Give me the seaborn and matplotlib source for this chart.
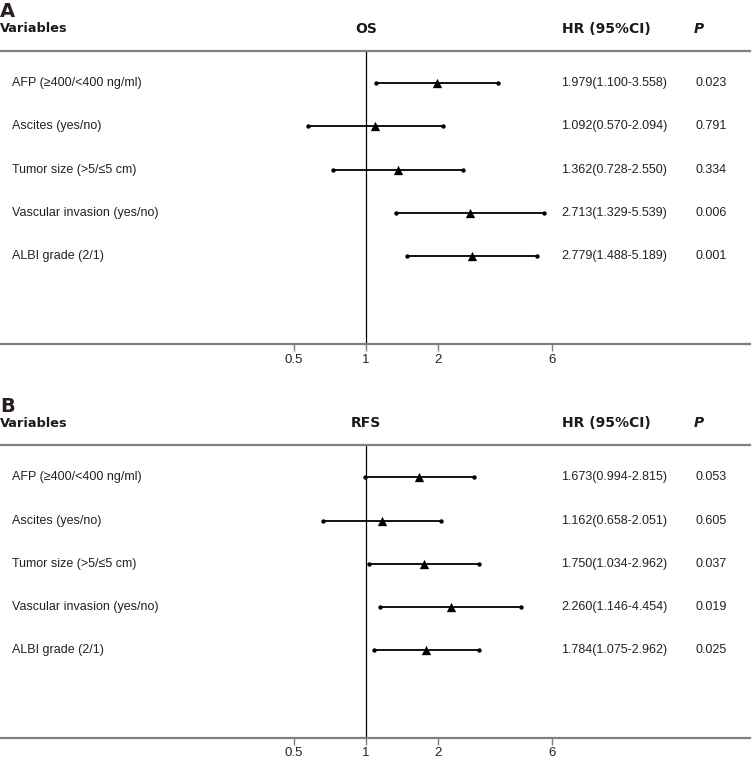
import numpy as np
import pandas as pd
import seaborn as sns
import matplotlib.pyplot as plt
from matplotlib.transforms import blended_transform_factory

# Values
variables = ["AFP (\u2265400/<400 ng/ml)", "Ascites (yes/no)", "Tumor size (>5/\u22645 cm)",
             "Vascular invasion (yes/no)", "ALBI grade (2/1)"]

os_hr = [1.979, 1.092, 1.362, 2.713, 2.779]
os_lo = [1.100, 0.570, 0.728, 1.329, 1.488]
os_hi = [3.558, 2.094, 2.550, 5.539, 5.189]
os_p = ["0.023", "0.791", "0.334", "0.006", "0.001"]

rfs_hr = [1.673, 1.162, 1.750, 2.260, 1.784]
rfs_lo = [0.994, 0.658, 1.034, 1.146, 1.075]
rfs_hi = [2.815, 2.051, 2.962, 4.454, 2.962]
rfs_p = ["0.053", "0.605", "0.037", "0.019", "0.025"]

ticks = [0.5, 1, 2, 6]
tick_labels = ["0.5", "1", "2", "6"]

sns.set_theme(style="white")
plt.rcParams['font.family'] = ['Liberation Sans', 'DejaVu Sans']

fig = plt.figure(figsize=(7.54, 7.65), dpi=100)
W, H = 754, 765
grey = "#7f7f7f"


def forest(panel, outcome, hr, lo, hi, pvals, top_px, bottom_px):
    ax = fig.add_axes([1 / W, 1 - bottom_px / H, 749 / W, (bottom_px - top_px) / H])
    df = pd.DataFrame({"var": variables, "hr": hr, "lo": lo, "hi": hi, "p": pvals})
    df["row"] = np.arange(len(df))

    ax.set_xscale("log")
    ax.axvline(1, color="black", lw=0.9, zorder=1)
    ax.hlines(df["row"], df["lo"], df["hi"], color="black", lw=1.3, zorder=2)
    ends = pd.concat([df[["lo", "row"]].rename(columns={"lo": "x"}),
                      df[["hi", "row"]].rename(columns={"hi": "x"})])
    sns.scatterplot(data=ends, x="x", y="row", ax=ax, color="black", s=10,
                    marker="o", linewidth=0, zorder=3)
    sns.scatterplot(data=df, x="hr", y="row", ax=ax, color="black", s=45,
                    marker="^", linewidth=0, zorder=4)

    ax.set_xlim(0.0298, 40.3)
    ax.set_ylim(6.03, -0.75)
    ax.set_xticks(ticks)
    ax.set_xticklabels(tick_labels)
    ax.minorticks_off()
    ax.set_yticks([])
    ax.set_xlabel("")
    ax.set_ylabel("")
    for s in ["left", "right"]:
        ax.spines[s].set_visible(False)
    for s in ["top", "bottom"]:
        ax.spines[s].set_color(grey)
        ax.spines[s].set_linewidth(1.6)
    ax.tick_params(axis="x", direction="out", length=5, width=1, color=grey,
                   labelsize=9.5, pad=2, bottom=True, labelcolor="#222222")

    tr = blended_transform_factory(fig.transFigure, ax.transData)
    for _, r in df.iterrows():
        ax.text(12 / W, r["row"], r["var"], transform=tr, va="center", fontsize=9,
                color="#222222")
        ax.text(561 / W, r["row"], f"{r['hr']:.3f}({r['lo']:.3f}-{r['hi']:.3f})",
                transform=tr, va="center", fontsize=9, color="#222222")
        ax.text(695 / W, r["row"], r["p"], transform=tr, va="center", fontsize=9,
                color="#222222")

    hy = -0.75 - 22 / 43.25
    bold = dict(fontweight="bold", fontsize=10, family=["DejaVu Sans"], va="center",
                color="#1a1a1a")
    ax.text(0 / W, hy, "Variables", transform=tr, **{**bold, "fontsize": 9.3})
    ax.text(1, hy, outcome, ha="center", **bold)
    ax.text(562 / W, hy, "HR (95%CI)", transform=tr, **bold)
    ax.text(694 / W, hy, "P", transform=tr, style="italic", **bold)
    fig.text(0, 1 - (top_px - 39) / H, panel, fontweight="bold", fontsize=14,
             family=["DejaVu Sans"], va="center", color="#2a1f1f")
    return ax


forest("A", "OS", os_hr, os_lo, os_hi, os_p, 50.7, 344)
forest("B", "RFS", rfs_hr, rfs_lo, rfs_hi, rfs_p, 445, 737.7)

fig.savefig("out.png", dpi=100)
